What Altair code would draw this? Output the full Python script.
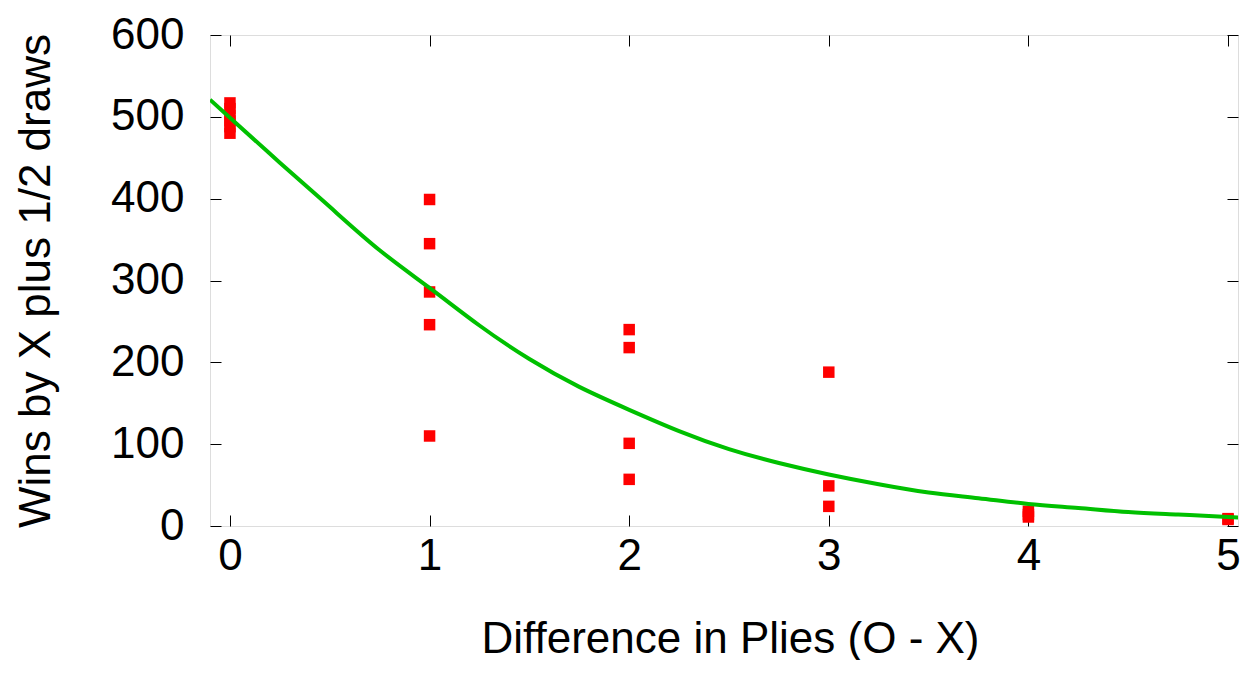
import altair as alt
import pandas as pd

# Data
point_x = [0, 0, 0, 0, 0, 0,
           1, 1, 1, 1, 1,
           2, 2, 2, 2,
           3, 3, 3,
           4, 4, 4,
           5, 5]
point_y = [517, 510, 502, 495, 488, 480,
           399, 345, 286, 246, 110,
           240, 218, 101, 57,
           188, 49, 24,
           18, 14, 11,
           9, 8]

curve_x = [-0.1, 0, 0.25, 0.5, 0.75, 1, 1.25, 1.5, 1.75, 2, 2.25, 2.5, 2.75,
           3, 3.25, 3.5, 3.75, 4, 4.25, 4.5, 4.75, 5, 5.1]
curve_y = [521, 499, 444, 390, 337, 291, 245, 204, 170, 142, 116, 94, 77,
           63, 51, 41, 34, 27, 22, 17, 14, 11, 10]

x_ticks = [0, 1, 2, 3, 4, 5]
y_ticks = [0, 100, 200, 300, 400, 500, 600]

x_title = "Difference in Plies (O - X)"
y_title = "Wins by X plus 1/2 draws"

FONT = "Liberation Sans"
FS = 44
TICK = 11

points = pd.DataFrame({"x": point_x, "y": point_y})
curve = pd.DataFrame({"x": curve_x, "y": curve_y})

xscale = alt.Scale(domain=[-0.1, 5.05], nice=False, zero=False)
yscale = alt.Scale(domain=[0, 600], nice=False, zero=False)

common = dict(offset=-TICK, tickSize=TICK, domain=False, grid=False,
              tickColor="black", tickWidth=1)

x_bottom = alt.Axis(values=x_ticks, labelPadding=8, labelFont=FONT, labelFontSize=FS,
                    labelColor="black", labelFlush=False, labelOverlap=False,
                    title=x_title, titleFont=FONT, titleFontSize=FS, titleFontWeight="normal",
                    titleColor="black", titleBaseline="alphabetic", titleY=137,
                    titleX=520, orient="bottom", **common)
y_left = alt.Axis(values=y_ticks, labelPadding=26, labelFont=FONT, labelFontSize=FS,
                  labelColor="black", labelFlush=False, labelOverlap=False,
                  title=y_title, titleFont=FONT, titleFontSize=FS, titleFontWeight="normal",
                  titleColor="black", titleBaseline="alphabetic", titleX=-172, titleY=245.5,
                  orient="left", **common)
x_top = alt.Axis(values=x_ticks, labels=False, title=None, orient="top", **common)
y_right = alt.Axis(values=y_ticks, labels=False, title=None, orient="right", **common)

pts = alt.Chart(points).mark_square(size=132, color="#ff0000", opacity=1).encode(
    x=alt.X("x:Q", scale=xscale, axis=x_bottom),
    y=alt.Y("y:Q", scale=yscale, axis=y_left),
)

line = alt.Chart(curve).mark_line(color="#00c000", strokeWidth=4, interpolate="natural",
                                  clip=True).encode(
    x=alt.X("x:Q", scale=xscale, axis=x_top),
    y=alt.Y("y:Q", scale=yscale, axis=y_right),
)

chart = alt.layer(pts, line).resolve_axis(x="independent", y="independent").properties(
    width=1028, height=491,
    autosize=alt.AutoSizeParams(type="none"),
    padding={"left": 202, "top": 27, "right": 3, "bottom": 134},
).configure_view(stroke="black", strokeWidth=1.5).configure(background="white")

chart.save("out.html", embed_options={"renderer": "svg", "actions": False})
